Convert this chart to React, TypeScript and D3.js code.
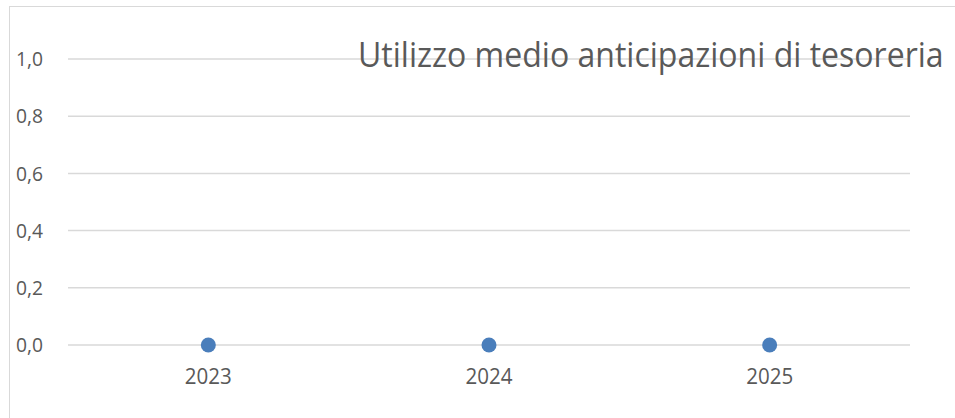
import React, { useLayoutEffect, useRef, useState } from "react";
import * as d3 from "d3";

const categories: string[] = ["2023", "2024", "2025"];
const values: number[] = [0, 0, 0];
const yTicks: number[] = [0, 0.2, 0.4, 0.6, 0.8, 1.0];
const title = "Utilizzo medio anticipazioni di tesoreria";

export default function App() {
  const W = 955, H = 418;
  const plotLeft = 68, plotRight = 910, plotTop = 59, plotBottom = 345;
  const x = d3.scalePoint<string>().domain(categories).range([plotLeft, plotRight]).padding(0.5);
  const y = d3.scaleLinear().domain([0, 1]).range([plotBottom, plotTop]);
  const fmt = (v: number) => v.toFixed(1).replace(".", ",");
  const font = "'Open Sans', 'Noto Sans', sans-serif";
  const titleRef = useRef<SVGTextElement>(null);
  const [sx, setSx] = useState(1);
  const titleX = 358, titleW = 586;
  useLayoutEffect(() => {
    if (titleRef.current) {
      const w = titleRef.current.getComputedTextLength();
      if (w > 0) setSx(titleW / w);
    }
  }, []);
  return (
    <svg width={W} height={H} style={{ position: "absolute", left: 0, top: 0, background: "#fff" }}>
      <rect x={9.5} y={6.5} width={W} height={H} fill="#fff" stroke="#d9d9d9" strokeWidth={1} />
      {yTicks.map((t) => (
        <g key={t}>
          <line x1={plotLeft} x2={plotRight} y1={y(t)} y2={y(t)} stroke="#d9d9d9" strokeWidth={1.5} />
          <text x={16} y={y(t)} dy="0.36em" fontSize={20} fill="#595959" fontFamily={font}
            textLength={27} lengthAdjust="spacingAndGlyphs">{fmt(t)}</text>
        </g>
      ))}
      {categories.map((c) => (
        <text key={c} x={x(c)} y={384} textAnchor="middle" fontSize={21} fill="#595959" fontFamily={font}
          textLength={47} lengthAdjust="spacingAndGlyphs">{c}</text>
      ))}
      {categories.map((c, i) => (
        <circle key={c} cx={x(c)} cy={y(values[i])} r={7.5} fill="#4a7ebb" />
      ))}
      <g transform={`translate(${titleX},67) scale(${sx},1)`}>
        <text ref={titleRef} x={0} y={0} fontSize={34} fill="#595959" fontFamily={font}>{title}</text>
      </g>
    </svg>
  );
}
